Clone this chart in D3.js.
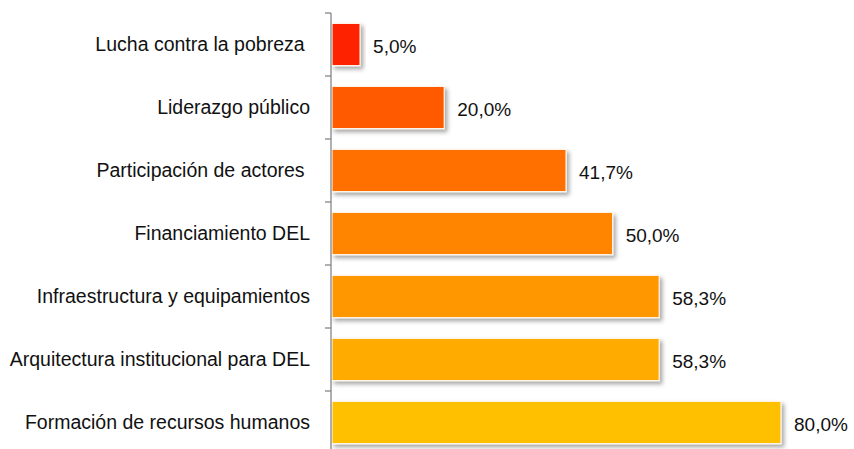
<!DOCTYPE html>
<html>
<head>
<meta charset="utf-8">
<script src="https://cdn.jsdelivr.net/npm/d3@7"></script>
<style>
  body { margin: 0; background: #fff; }
  text { font-family: "Liberation Sans", Arial, sans-serif; fill: #111; white-space: pre; }
</style>
</head>
<body>
<div id="chart"></div>
<script>
var categories = [
  "Lucha contra la pobreza ",
  "Liderazgo público",
  "Participación de actores ",
  "Financiamiento DEL",
  "Infraestructura y equipamientos",
  "Arquitectura institucional para DEL",
  "Formación de recursos humanos"
];
var values = [5.0, 20.0, 41.7, 50.0, 58.3, 58.3, 80.0];
var valueLabels = ["5,0%", "20,0%", "41,7%", "50,0%", "58,3%", "58,3%", "80,0%"];
var barColors = ["#ff2000", "#ff5a00", "#ff6f00", "#ff8400", "#ff9800", "#ffab00", "#ffc000"];

var chart = {};
chart.w = 854;
chart.h = 449;
chart.axisX = 331;

chart.svg = d3.select("#chart")
  .append("svg")
  .attr("width", chart.w)
  .attr("height", chart.h);

var defs = chart.svg.append("defs");
var shadow = defs.append("filter")
  .attr("id", "shadow")
  .attr("x", "-10%").attr("y", "-20%")
  .attr("width", "130%").attr("height", "160%");
shadow.append("feDropShadow")
  .attr("dx", 2.5).attr("dy", 3)
  .attr("stdDeviation", 2)
  .attr("flood-color", "#000")
  .attr("flood-opacity", 0.35);

var x = d3.scaleLinear()
  .domain([0, 80])
  .range([chart.axisX + 1, 781]);

var y = d3.scaleBand()
  .domain(categories)
  .range([13, 13 + 63 * categories.length])
  .paddingInner(0.33)
  .paddingOuter(0.165);

var data = categories.map(function(c, i) {
  return { cat: c, value: values[i], label: valueLabels[i], color: barColors[i] };
});

// bars
chart.svg.append("g")
    .attr("class", "bars")
  .selectAll("rect")
    .data(data)
  .enter().append("rect")
    .attr("x", x(0))
    .attr("y", function(d) { return y(d.cat); })
    .attr("width", function(d) { return x(d.value) - x(0); })
    .attr("height", y.bandwidth())
    .style("fill", function(d) { return d.color; })
    .style("stroke", "#fff4e8")
    .style("stroke-width", 1.2)
    .attr("filter", "url(#shadow)");

// value labels
chart.svg.append("g")
    .attr("class", "values")
  .selectAll("text")
    .data(data)
  .enter().append("text")
    .attr("x", function(d) { return x(d.value) + 13; })
    .attr("y", function(d) { return y(d.cat) + y.bandwidth() / 2 + 1.5; })
    .attr("dy", "0.35em")
    .style("font-size", "19px")
    .text(function(d) { return d.label; });

// category labels
chart.svg.append("g")
    .attr("class", "cats")
  .selectAll("text")
    .data(data)
  .enter().append("text")
    .attr("x", chart.axisX - 21)
    .attr("y", function(d) { return y(d.cat) + y.bandwidth() / 2; })
    .attr("dy", "0.35em")
    .attr("text-anchor", "end")
    .style("font-size", "19.5px")
    .text(function(d) { return d.cat; });

// axis line and ticks at band boundaries
var gap = y.step() * y.paddingInner() / 2;
var bounds = categories.map(function(c) { return y(c) - gap; });
bounds.push(y(categories[categories.length - 1]) + y.bandwidth() + gap);

var axis = chart.svg.append("g").attr("class", "axis");
axis.append("line")
  .attr("x1", chart.axisX).attr("x2", chart.axisX)
  .attr("y1", bounds[0]).attr("y2", bounds[bounds.length - 1])
  .style("stroke", "#868686")
  .style("stroke-width", 1.3);
axis.selectAll("line.tick")
    .data(bounds)
  .enter().append("line")
    .attr("class", "tick")
    .attr("x1", chart.axisX - 6).attr("x2", chart.axisX)
    .attr("y1", function(d) { return d; })
    .attr("y2", function(d) { return d; })
    .style("stroke", "#868686")
    .style("stroke-width", 1.3);
</script>
</body>
</html>
